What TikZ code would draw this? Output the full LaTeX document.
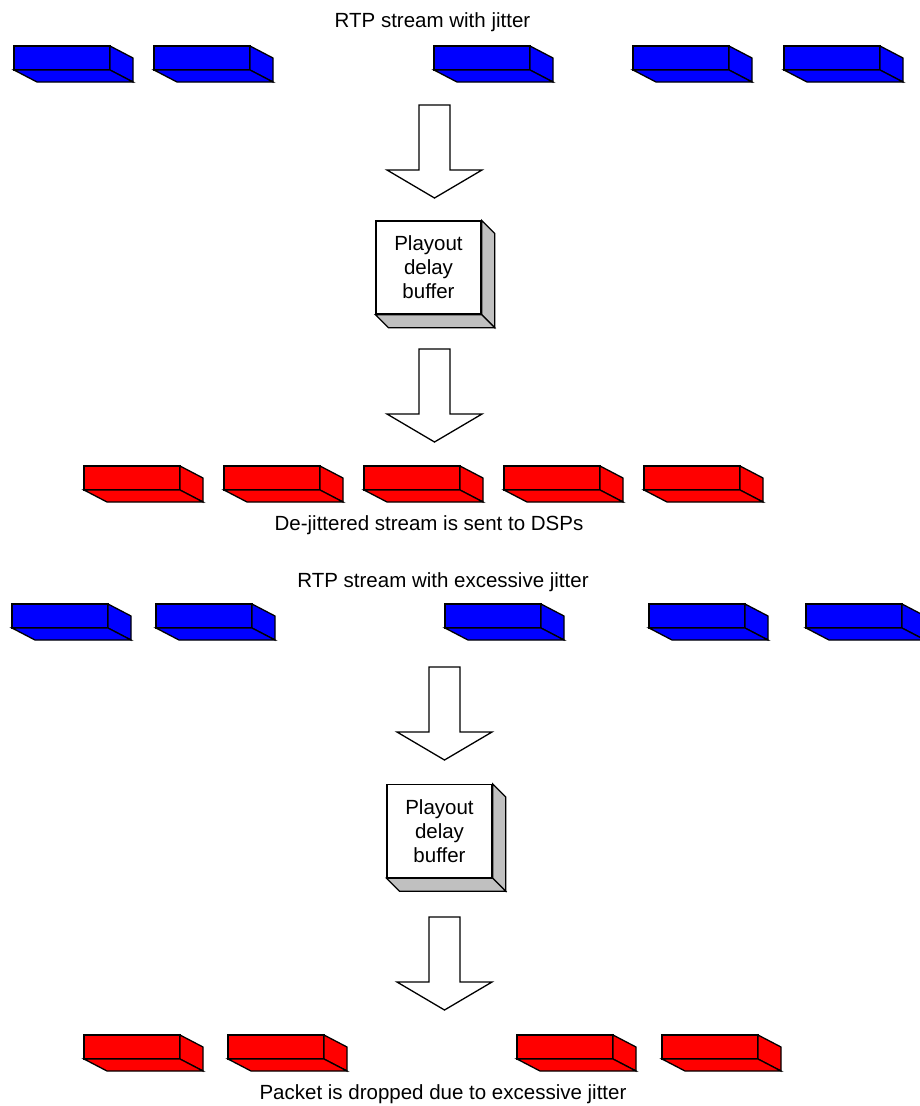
\documentclass[tikz,border=0pt]{standalone}
\usepackage{fontspec}
\setmainfont{Liberation Sans}
\usetikzlibrary{calc}
\definecolor{pktblue}{RGB}{0,0,255}
\definecolor{pktred}{RGB}{255,0,0}
\definecolor{sidegrey}{RGB}{192,192,192}
\tikzset{
  edge/.style={draw=black, line width=1.3pt, line join=miter},
  lbl/.style={font=\fontsize{20.5}{24}\selectfont, inner sep=0pt, anchor=base},
  bufbox/.style={edge, fill=white, minimum width=105pt, minimum height=93pt,
    inner sep=0pt, align=center, font=\fontsize{20.5}{24}\selectfont},
  blockarrow/.style={edge, fill=white},
}
% a 3-D packet: name, left x, top y, colour
\newcommand\packet[4]{%
  \coordinate (#1) at (#2,#3);
  \begin{scope}[shift={(#1)}]
    \path[edge, fill=#4] (0,0) rectangle (96,24);
    \path[edge, fill=#4] (96,0) -- (119,12) -- (119,36) -- (96,24) -- cycle;
    \path[edge, fill=#4] (0,24) -- (96,24) -- (119,36) -- (23,36) -- cycle;
  \end{scope}}
% a buffer box with its grey side and bottom faces
\newcommand\bufferbox[2]{%
  \node[bufbox] (#1) at #2 {Playout\\delay\\buffer};
  \path[edge, fill=sidegrey] (#1.north east) -- ++(13,13) -- ($(#1.south east)+(13,13)$)
    -- (#1.south east) -- cycle;
  \path[edge, fill=sidegrey] (#1.south west) -- (#1.south east) -- ($(#1.south east)+(13,13)$)
    -- ($(#1.south west)+(13,13)$) -- cycle;}
% a hollow block arrow hanging from a named top-centre coordinate
\newcommand\flowarrow[1]{%
  \path[blockarrow] (#1) ++(-15.5,0) -- ++(31,0) -- ++(0,65) -- ++(32,0)
    -- ++(-47.5,28) -- ++(-47.5,-28) -- ++(32,0) -- cycle;}
\begin{document}
\begin{tikzpicture}[x=1pt, y=-1pt]
\useasboundingbox (0,0) rectangle (919,1106);

% ---- normal jitter ----
\node[lbl] (t1) at (432.5,27) {RTP stream with jitter};
\packet{a1}{14}{46}{pktblue}
\packet{a2}{154}{46}{pktblue}
\packet{a3}{434}{46}{pktblue}
\packet{a4}{633}{46}{pktblue}
\packet{a5}{784}{46}{pktblue}

\coordinate (arr1) at (434.5,105);
\flowarrow{arr1}
\bufferbox{buf1}{(428.5,267.5)}
\coordinate (arr2) at (434.5,349);
\flowarrow{arr2}

\packet{b1}{84}{466}{pktred}
\packet{b2}{224}{466}{pktred}
\packet{b3}{364}{466}{pktred}
\packet{b4}{504}{466}{pktred}
\packet{b5}{644}{466}{pktred}
\node[lbl] (t2) at (429,530) {De-jittered stream is sent to DSPs};

% ---- excessive jitter ----
\node[lbl] (t3) at (443,587) {RTP stream with excessive jitter};
\packet{c1}{12}{604}{pktblue}
\packet{c2}{156}{604}{pktblue}
\packet{c3}{445}{604}{pktblue}
\packet{c4}{649}{604}{pktblue}
\packet{c5}{806}{604}{pktblue}

\coordinate (arr3) at (444.5,667);
\flowarrow{arr3}
\bufferbox{buf2}{(439.5,831)}
\coordinate (arr4) at (444.5,917);
\flowarrow{arr4}

\packet{d1}{84}{1035}{pktred}
\packet{d2}{228}{1035}{pktred}
\packet{d3}{517}{1035}{pktred}
\packet{d4}{662}{1035}{pktred}
\node[lbl] (t4) at (443,1099) {Packet is dropped due to excessive jitter};
\end{tikzpicture}
\end{document}
